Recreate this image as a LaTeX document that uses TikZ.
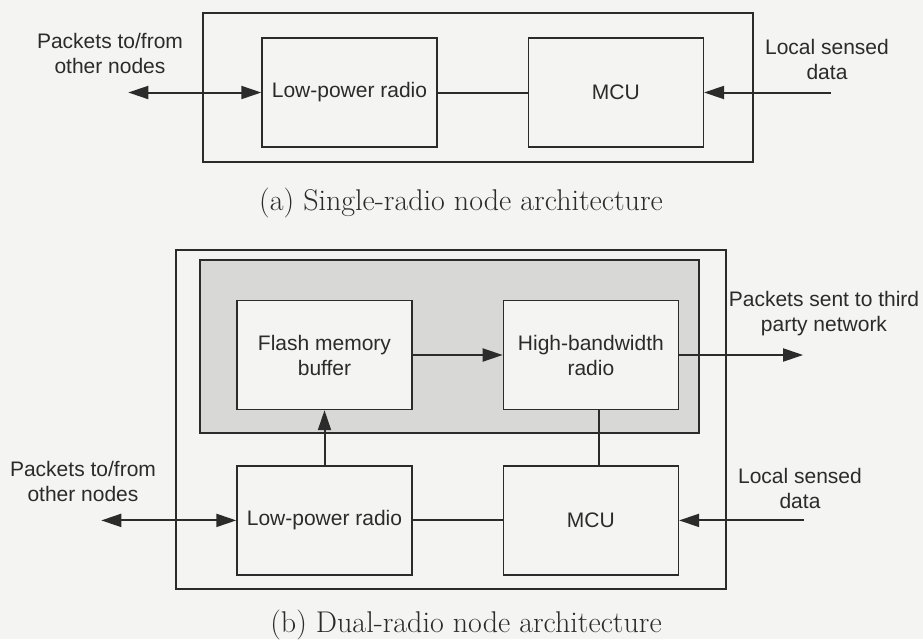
\documentclass[tikz,border=0pt]{standalone}
\usepackage{fontspec}
\newfontfamily\labelfont{Liberation Sans}
\usepackage{xcolor}
\usetikzlibrary{positioning,arrows.meta}
\definecolor{ink}{HTML}{2B2B2B}
\definecolor{paper}{HTML}{F4F4F2}
\definecolor{shade}{HTML}{D8D8D6}

\begin{document}
\begin{tikzpicture}[x=0.5pt,y=-0.5pt,
    node distance=45pt,
    unit/.style={rectangle,draw=ink,fill=paper,line width=0.7pt,
                minimum width=87.5pt,minimum height=54.5pt,inner sep=0pt,
                font=\labelfont\fontsize{10.5}{12.5}\selectfont,align=center,text=ink},
    note/.style={font=\labelfont\fontsize{10.5}{12.5}\selectfont,align=center,
                text=ink,inner sep=0pt},
    figcap/.style={font=\fontsize{15}{17}\selectfont,text=ink,inner sep=0pt,anchor=base},
    frame/.style={draw=ink,line width=0.7pt},
    arr/.style={-{Triangle[length=10pt,width=6.5pt]},draw=ink,line width=1pt},
    biarr/.style={{Triangle[length=10pt,width=6.5pt]}-{Triangle[length=10pt,width=6.5pt]},
                draw=ink,line width=1pt},
    wire/.style={draw=ink,line width=1pt}]
\useasboundingbox (0,0) rectangle (923,639);
\fill[paper] (0,0) rectangle (923,639);

% (a) single radio
\draw[frame] (203,13) rectangle (753,162);
\node[unit] (lpA) at (349.5,92.5) {Low-power radio};
\node[unit,right=of lpA] (mcuA) {MCU};
\coordinate[left=66.5pt of lpA.west] (netA);
\coordinate[right=63.5pt of mcuA.east] (senseA);
\node[note] (netAtxt) at (110,53.5) {Packets to/from\\other nodes};
\node[note] (senseAtxt) at (827,59.5) {Local sensed\\data};
\draw[biarr](netA)--(lpA);\draw[wire](lpA)--(mcuA);\draw[arr](senseA)--(mcuA);
\node[figcap] (capA) at (461,210) {(a) Single-radio node architecture};

% (b) dual radio
\draw[frame] (176,250) rectangle (726,589);
\filldraw[frame,fill=shade] (200,260) rectangle (699,433);
\node[unit] (flash) at (324.5,355) {Flash memory\\buffer};
\node[unit,right=of flash] (hbr) {High-bandwidth\\radio};
\node[unit,below=27.5pt of flash] (lpB) {Low-power radio};
\node[unit,right=of lpB] (mcuB) {MCU};
\coordinate[left=67.5pt of lpB.west] (netB);
\coordinate[right=62.5pt of mcuB.east] (senseB);
\coordinate[right=62pt of hbr.east] (thirdB);
\node[note] (netBtxt) at (83,481) {Packets to/from\\other nodes};
\node[note] (senseBtxt) at (800,488) {Local sensed\\data};
\node[note] (thirdBtxt) at (824,314) {Packets sent to third\\party network};
\draw[arr](flash)--(hbr);\draw[arr](lpB)--(flash);
\draw[wire]([xshift=4pt]hbr.south)--([xshift=4pt]mcuB.north);
\draw[wire](lpB)--(mcuB);\draw[biarr](netB)--(lpB);
\draw[arr](senseB)--(mcuB);\draw[arr](hbr)--(thirdB);
\node[figcap] (capB) at (466,632) {(b) Dual-radio node architecture};
\end{tikzpicture}
\end{document}
